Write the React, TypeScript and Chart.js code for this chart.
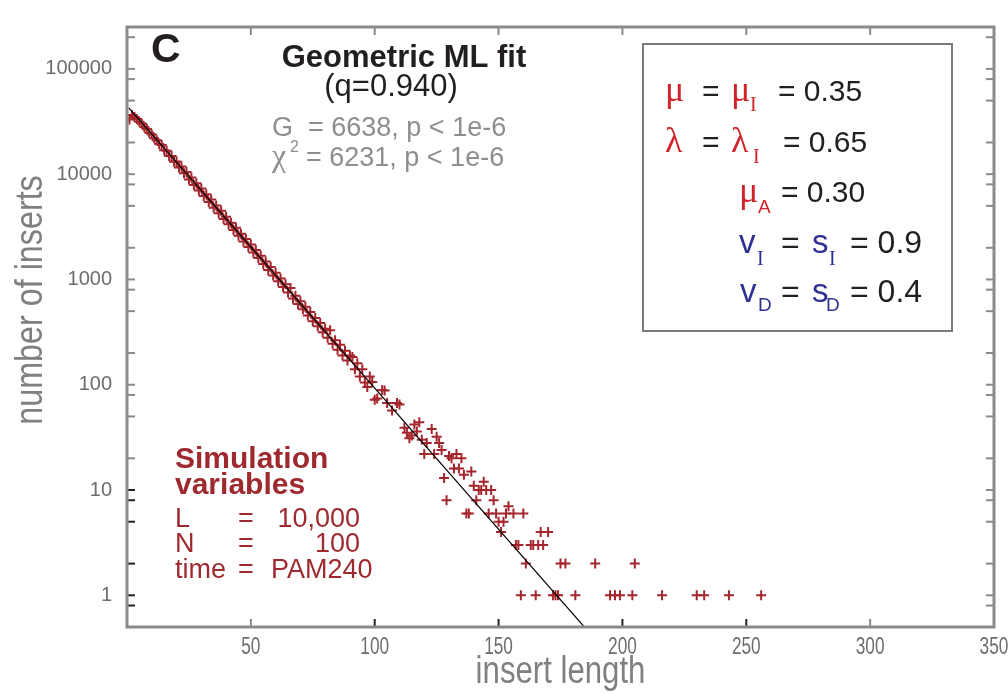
import React, { useEffect, useRef } from 'react';
import { Chart, registerables } from 'chart.js';

Chart.register(...registerables);

// insert length (x) and number of inserts (y)
const lengths = [
  1, 2, 3, 4, 5, 6, 7, 8, 9, 10, 11, 12, 13, 14, 15, 16, 17, 18, 19, 20,
  21, 22, 23, 24, 25, 26, 27, 28, 29, 30, 31, 32, 33, 34, 35, 36, 37, 38, 39, 40,
  41, 42, 43, 44, 45, 46, 47, 48, 49, 50, 51, 52, 53, 54, 55, 56, 57, 58, 59, 60,
  61, 62, 63, 64, 65, 66, 67, 68, 69, 70, 71, 72, 73, 74, 75, 76, 77, 78, 79, 80,
  81, 82, 83, 84, 85, 86, 87, 88, 89, 90, 91, 92, 93, 94, 95, 96, 97, 98, 99,
  100, 101, 103, 104, 105, 107, 109, 110, 112, 113, 114, 115, 116, 117, 118, 119,
  120, 121, 123, 124, 125, 126, 127, 128, 129, 130, 131, 132, 133, 134, 135, 136,
  137, 138, 139, 140, 141, 142, 143, 144, 145, 146, 147, 148, 149, 150, 151, 152,
  153, 154, 156, 157, 158, 159, 160, 161, 163, 164, 165, 166, 167, 168, 170, 172,
  173, 174, 175, 177, 181, 189, 195, 197, 199, 204, 205, 216, 230, 233, 243, 256,
];
const counts = [
  33000, 36500, 35000, 33500, 31500, 30200, 28000, 26800, 24800, 23800,
  22000, 21000, 19300, 18900, 16900, 16700, 14900, 14900, 13100, 13200,
  11600, 11800, 10200, 10500, 8900, 9300, 7900, 8200, 7000, 7300,
  6200, 6450, 5450, 5750, 4800, 5050, 4250, 4500, 3750, 3950,
  3350, 3450, 2950, 3100, 2600, 2720, 2300, 2420, 2030, 2150,
  1800, 1900, 1600, 1680, 1400, 1480, 1230, 1310, 1090, 1160,
  960, 1020, 850, 900, 750, 830, 660, 700, 585, 620,
  520, 550, 455, 490, 400, 430, 360, 385, 315, 340,
  280, 330, 245, 265, 215, 240, 190, 210, 170, 190,
  183, 140, 160, 120, 140, 105, 95, 120, 106,
  72, 74, 89, 88, 67, 57, 67, 65, 39, 35, 31, 33, 42, 36, 44, 30,
  22, 28, 38, 22, 32, 28, 24, 13, 8, 21, 20, 16, 22, 16, 20, 14,
  6, 6, 15, 11, 8, 10, 10, 12, 10, 6, 10, 8, 6, 5, 4, 5,
  6, 7, 6, 3, 3, 1, 6, 2, 3, 3, 1, 3, 4, 3, 4, 1,
  1, 1, 2, 2, 1, 2, 1, 1, 1, 1, 2, 1, 1, 1, 1, 1,
];

// geometric ML fit (q = 0.940), end points of the straight line on the log axis
const fitX = [0.7, 186];
const fitY = [42700, 0.46];

const xTicks = [50, 100, 150, 200, 250, 300, 350];
const yMajorTicks = [1, 10, 100, 1000, 10000, 100000];
const yMinorTicks = [0.8, 2, 5, 8, 20, 50, 80, 200, 500, 800, 2000, 5000, 8000, 20000, 50000, 80000, 200000];

const SANS = '"Liberation Sans", Arial, Helvetica, sans-serif';
const SERIF = '"Liberation Serif", "Times New Roman", serif';

const RED = '#d2232a';
const BLUE = '#2e3192';
const INK = '#231f20';
const DARKRED = '#9e2a2f';
const GREY_TXT = '#8e8e8e';
const AXIS_GREY = '#8a8a8a';

function t(ctx: CanvasRenderingContext2D, s: string, x: number, y: number, font: string, color: string, align: CanvasTextAlign = 'left') {
  ctx.font = font;
  ctx.fillStyle = color;
  ctx.textAlign = align;
  ctx.textBaseline = 'alphabetic';
  ctx.fillText(s, x, y);
}

// condensed text: horizontal squeeze of a regular face
function tc(ctx: CanvasRenderingContext2D, s: string, x: number, y: number, font: string, color: string, sx: number, rot = 0) {
  ctx.save();
  ctx.translate(x, y);
  if (rot) ctx.rotate(rot);
  ctx.scale(sx, 1);
  t(ctx, s, 0, 0, font, color, 'center');
  ctx.restore();
}

const decor = {
  id: 'decor',
  afterDraw(chart: any) {
    const { ctx, chartArea: a, scales } = chart;
    const xs = scales.x;
    const ys = scales.y;
    ctx.save();
    const tl = 8;
    ctx.lineWidth = 2;
    xTicks.forEach((v) => {
      const px = xs.getPixelForValue(v);
      ctx.strokeStyle = v >= 100 && v <= 250 ? '#222' : AXIS_GREY;
      ctx.beginPath();
      ctx.moveTo(px, a.bottom);
      ctx.lineTo(px, a.bottom - tl);
      ctx.stroke();
      ctx.strokeStyle = AXIS_GREY;
      ctx.beginPath();
      ctx.moveTo(px, a.top);
      ctx.lineTo(px, a.top + tl);
      ctx.stroke();
    });
    [...yMajorTicks, ...yMinorTicks].forEach((v) => {
      const py = ys.getPixelForValue(v);
      ctx.strokeStyle = v <= 10 ? '#222' : AXIS_GREY;
      ctx.beginPath();
      ctx.moveTo(a.left, py);
      ctx.lineTo(a.left + tl, py);
      ctx.stroke();
      ctx.strokeStyle = AXIS_GREY;
      ctx.beginPath();
      ctx.moveTo(a.right, py);
      ctx.lineTo(a.right - tl, py);
      ctx.stroke();
    });
    ctx.strokeStyle = AXIS_GREY;
    ctx.lineWidth = 3;
    ctx.strokeRect(a.left, a.top, a.right - a.left, a.bottom - a.top);

    // x tick labels (condensed face), taken from the scale's own ticks
    xs.ticks.forEach((tk: any) => {
      const px = xs.getPixelForValue(tk.value);
      tc(ctx, String(tk.label ?? tk.value), px, 654, `23px ${SANS}`, '#6d6d6d', 0.75);
    });

    // axis titles
    tc(ctx, 'insert length', (a.left + a.right) / 2, 683, `38px ${SANS}`, '#808080', 0.82);
    tc(ctx, 'number of inserts', 42, 300, `38px ${SANS}`, '#808080', 0.85, -Math.PI / 2);

    // panel letter and fit statistics
    t(ctx, 'C', 151, 62, `bold 41px ${SANS}`, INK);
    t(ctx, 'Geometric ML fit', 404, 67, `bold 31px ${SANS}`, INK, 'center');
    t(ctx, '(q=0.940)', 391, 96, `31px ${SANS}`, INK, 'center');
    t(ctx, 'G  = 6638, p < 1e-6', 272, 136, `27px ${SANS}`, GREY_TXT);
    t(ctx, 'χ', 272, 166, `32px ${SERIF}`, GREY_TXT);
    t(ctx, '2', 290, 152, `16px ${SANS}`, GREY_TXT);
    t(ctx, '= 6231, p < 1e-6', 306, 166, `27px ${SANS}`, GREY_TXT);

    // parameter box
    ctx.strokeStyle = '#7a7a7a';
    ctx.lineWidth = 2;
    ctx.strokeRect(643, 44, 309, 287);
    const big = `30px ${SANS}`;
    const eq = `32px ${SANS}`;
    const vs = `33px ${SANS}`;
    const greek = `36px ${SERIF}`;
    const subSerif = `20px ${SERIF}`;
    const subSans = `19px ${SANS}`;
    t(ctx, 'μ', 665, 101, greek, RED);
    t(ctx, '=', 702, 101, big, INK);
    t(ctx, 'μ', 731, 101, greek, RED);
    t(ctx, 'I', 750, 111, subSerif, RED);
    t(ctx, '= 0.35', 778, 101, big, INK);

    t(ctx, 'λ', 665, 152, greek, RED);
    t(ctx, '=', 702, 152, big, INK);
    t(ctx, 'λ', 731, 152, greek, RED);
    t(ctx, 'I', 753, 163, subSerif, RED);
    t(ctx, '= 0.65', 783, 152, big, INK);

    t(ctx, 'μ', 739, 202, greek, RED);
    t(ctx, 'A', 758, 213, subSans, RED);
    t(ctx, '= 0.30', 781, 202, big, INK);

    t(ctx, 'v', 739, 253, vs, BLUE);
    t(ctx, 'I', 757, 265, subSerif, BLUE);
    t(ctx, '=', 781, 253, eq, INK);
    t(ctx, 's', 812, 253, vs, BLUE);
    t(ctx, 'I', 829, 265, subSerif, BLUE);
    t(ctx, '= 0.9', 850, 253, eq, INK);

    t(ctx, 'v', 740, 302, vs, BLUE);
    t(ctx, 'D', 758, 311, subSans, BLUE);
    t(ctx, '=', 781, 302, eq, INK);
    t(ctx, 's', 812, 302, vs, BLUE);
    t(ctx, 'D', 826, 311, subSans, BLUE);
    t(ctx, '= 0.4', 850, 302, eq, INK);

    // simulation variables
    t(ctx, 'Simulation', 175, 468, `bold 30px ${SANS}`, DARKRED);
    t(ctx, 'variables', 175, 494, `bold 30px ${SANS}`, DARKRED);
    const sv = `27px ${SANS}`;
    t(ctx, 'L', 175, 527, sv, DARKRED);
    t(ctx, '=', 238, 527, sv, DARKRED);
    t(ctx, '10,000', 360, 527, sv, DARKRED, 'right');
    t(ctx, 'N', 175, 552, sv, DARKRED);
    t(ctx, '=', 238, 552, sv, DARKRED);
    t(ctx, '100', 360, 552, sv, DARKRED, 'right');
    t(ctx, 'time', 175, 578, sv, DARKRED);
    t(ctx, '=', 238, 578, sv, DARKRED);
    t(ctx, 'PAM240', 271, 578, sv, DARKRED);
    ctx.restore();
  },
};

export default function App() {
  const ref = useRef<HTMLCanvasElement>(null);
  useEffect(() => {
    if (!ref.current) return;
    const chart = new Chart(ref.current, {
      type: 'scatter',
      data: {
        datasets: [
          {
            type: 'line',
            data: fitX.map((x, i) => ({ x, y: fitY[i] })),
            borderColor: '#000',
            borderWidth: 1.2,
            pointRadius: 0,
            fill: false,
            order: 0,
          } as any,
          {
            type: 'scatter',
            data: lengths.map((x, i) => ({ x, y: counts[i] })),
            pointStyle: 'cross',
            pointRadius: 5,
            borderWidth: 2,
            borderColor: '#a4262c',
            backgroundColor: '#a4262c',
            order: 1,
          } as any,
        ],
      },
      options: {
        animation: false,
        responsive: false,
        maintainAspectRatio: false,
        layout: { padding: { top: 10, right: 14, left: 0, bottom: 0 } },
        plugins: { legend: { display: false }, tooltip: { enabled: false } },
        scales: {
          x: {
            type: 'linear',
            min: 0,
            max: 350,
            afterBuildTicks: (s: any) => {
              s.ticks = xTicks.map((v) => ({ value: v }));
            },
            afterFit: (s: any) => {
              s.height = 66;
            },
            ticks: {
              display: false,
              autoSkip: false,
              maxRotation: 0,
              callback: (v: any) => String(v),
            },
            grid: { display: false, drawTicks: false },
            border: { display: false },
          },
          y: {
            type: 'logarithmic',
            min: 0.5,
            max: 250000,
            afterBuildTicks: (s: any) => {
              s.ticks = yMajorTicks.map((v) => ({ value: v }));
            },
            afterFit: (s: any) => {
              s.width = 127;
            },
            ticks: {
              autoSkip: false,
              padding: 15,
              color: '#6d6d6d',
              font: { family: SANS, size: 20 },
              callback: (v: any) => String(v),
            },
            grid: { display: false, drawTicks: false },
            border: { display: false },
          },
        },
      } as any,
      plugins: [decor],
    });
    return () => chart.destroy();
  }, []);
  return (
    <div style={{ position: 'fixed', left: 0, top: 0, width: 1008, height: 693, background: '#fff' }}>
      <canvas ref={ref} width={1008} height={693} style={{ display: 'block', width: 1008, height: 693 }} />
    </div>
  );
}
